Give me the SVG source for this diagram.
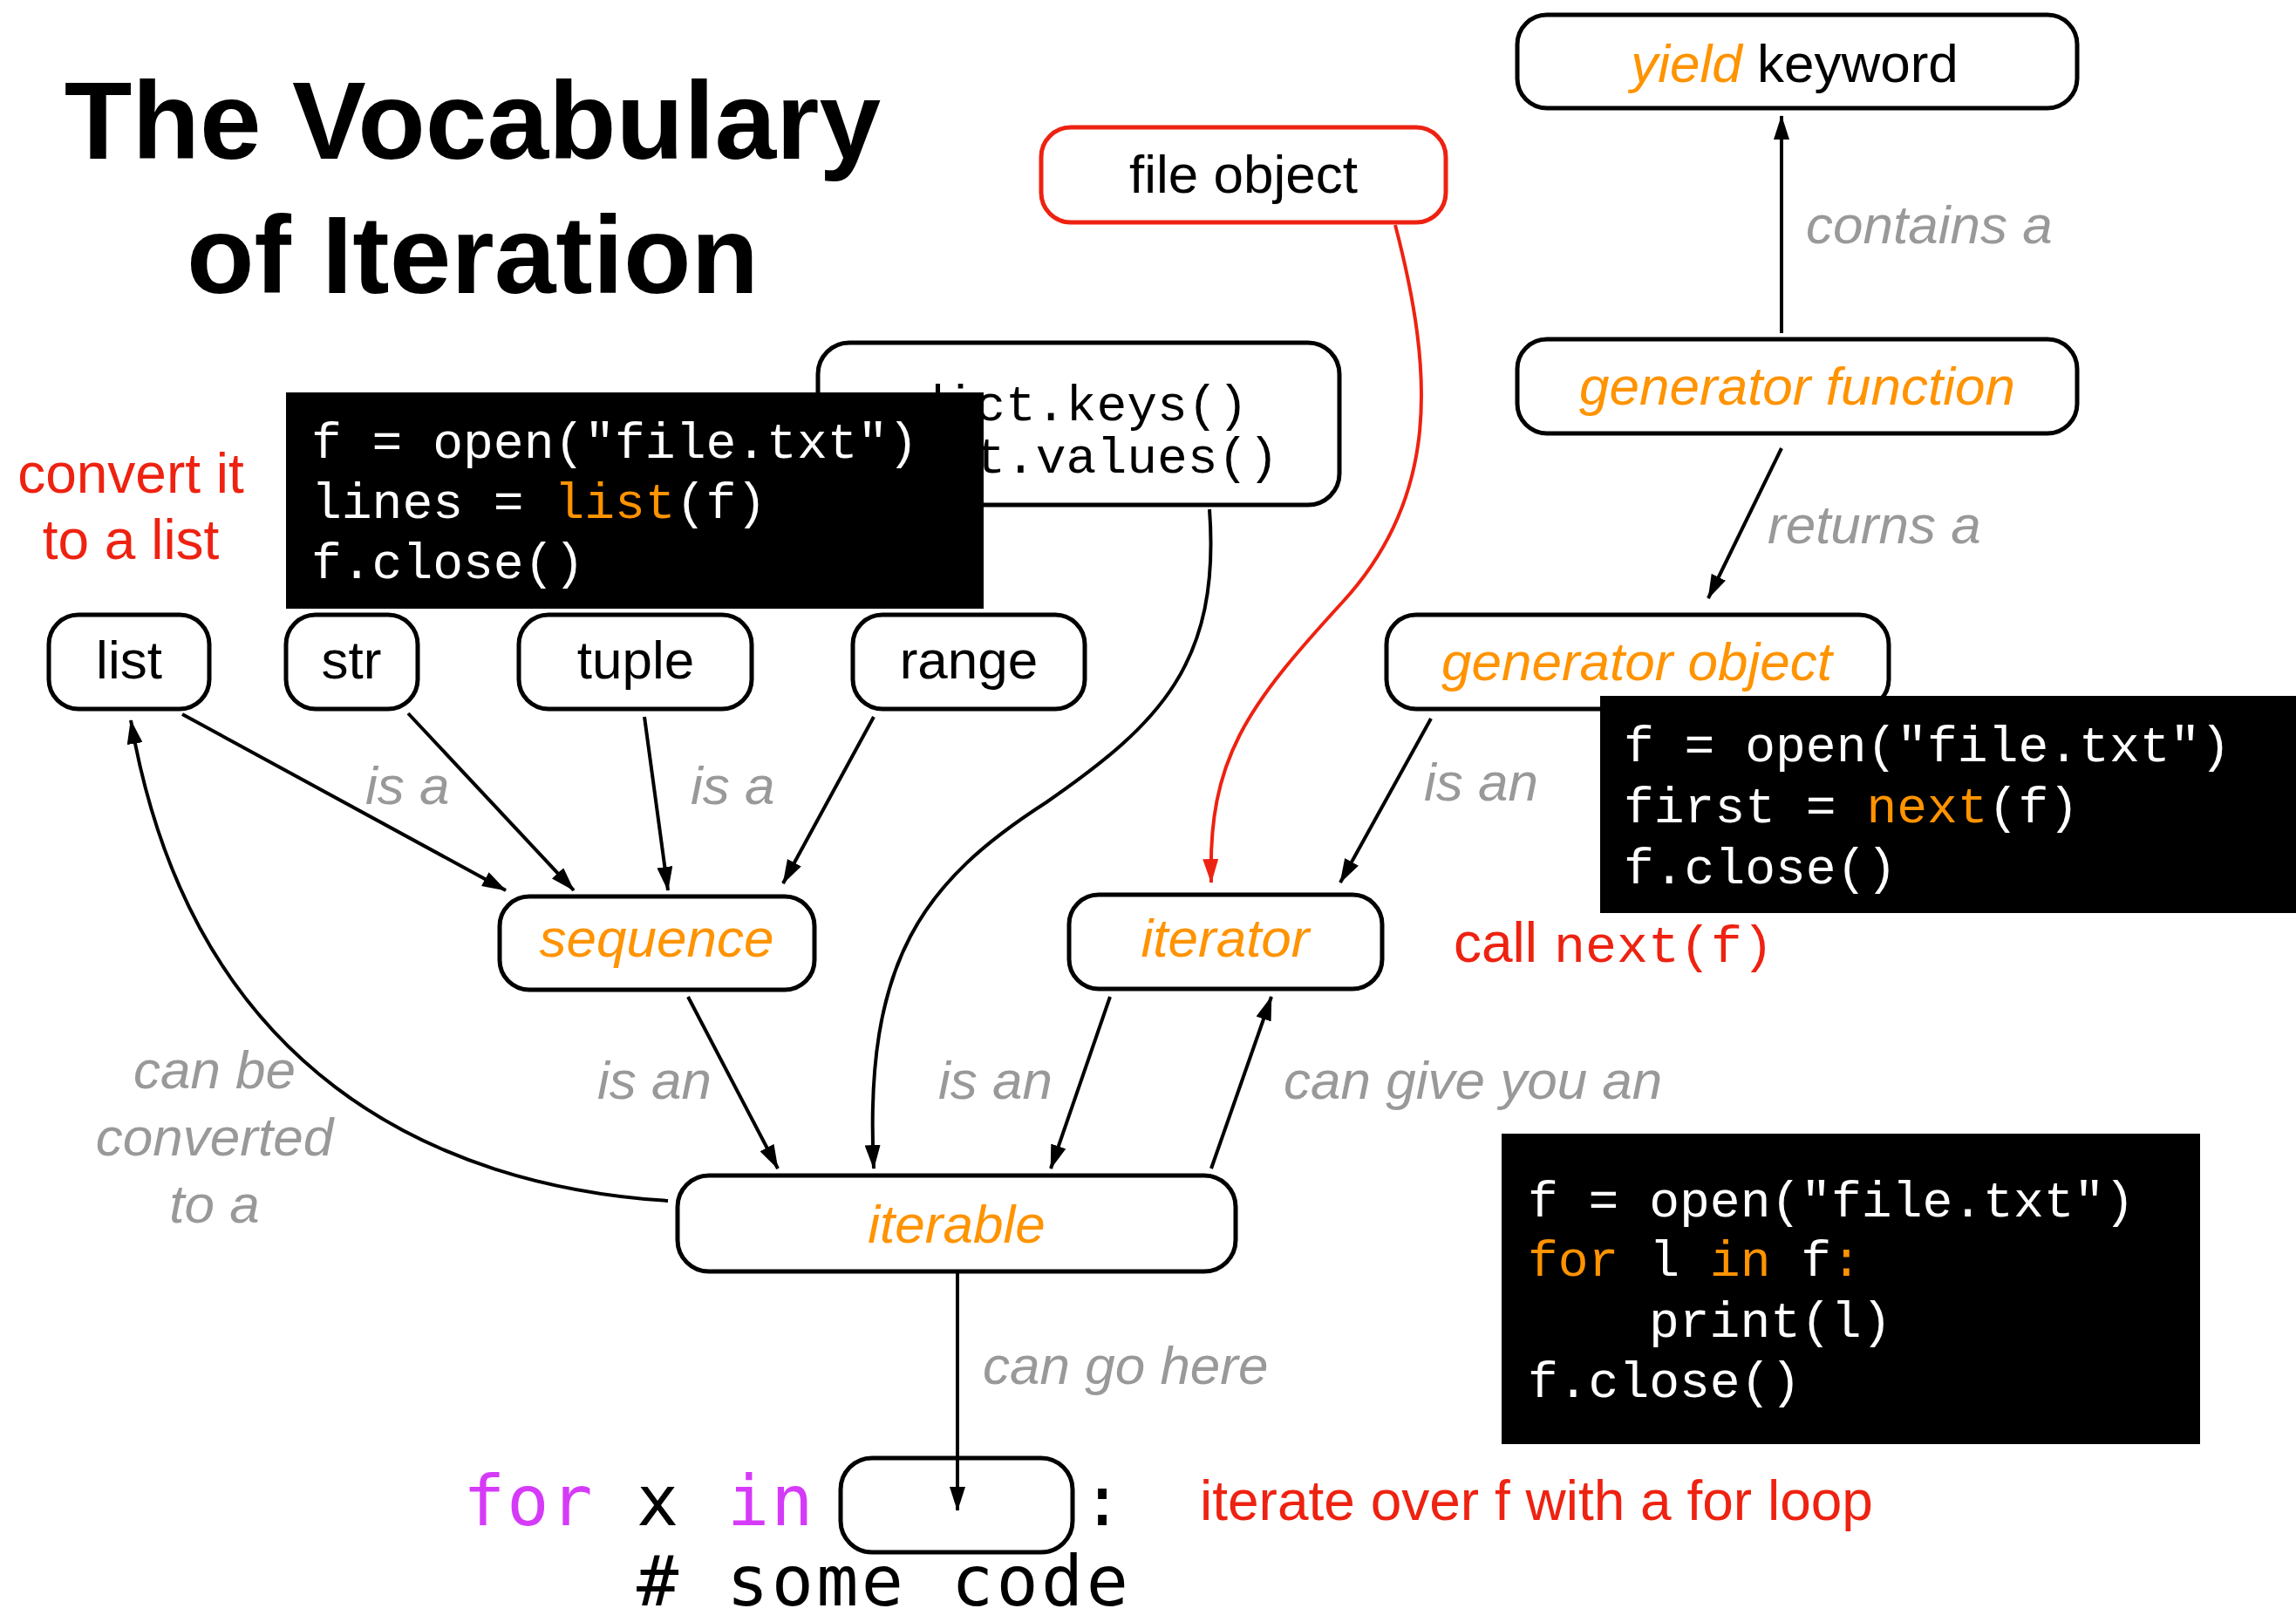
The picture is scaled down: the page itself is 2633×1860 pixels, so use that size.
<svg xmlns="http://www.w3.org/2000/svg" width="2633" height="1860" viewBox="0 0 2633 1860">
<style>
.node{fill:#fff;stroke:#000;stroke-width:5}
.red{stroke:#ee2211}
.code{fill:#000}
.t{font-family:"Liberation Sans",Arial,sans-serif;font-size:62px;fill:#000}
.c{text-anchor:middle}
.o{fill:#ff9300;font-style:italic}
.g{font-family:"Liberation Sans",Arial,sans-serif;font-size:62px;font-style:italic;fill:#999}
.r{font-family:"Liberation Sans",Arial,sans-serif;font-size:64px;fill:#ee2211}
.m{font-family:"Liberation Mono","Courier New",monospace;font-size:58px;fill:#fff}
.k{fill:#ff9300}
.mm{font-family:"DejaVu Sans Mono",monospace;font-size:80px;fill:#000}
.p{fill:#d63af9}
.e{fill:none;stroke:#000;stroke-width:4}
.er{fill:none;stroke:#ee2211;stroke-width:4}
</style>
<defs>
<marker id="ah" viewBox="0 0 28 18" refX="27" refY="9" markerWidth="28" markerHeight="18" orient="auto" markerUnits="userSpaceOnUse"><path d="M0,0 L28,9 L0,18 z" fill="#000"/></marker>
<marker id="ahr" viewBox="0 0 28 18" refX="27" refY="9" markerWidth="28" markerHeight="18" orient="auto" markerUnits="userSpaceOnUse"><path d="M0,0 L28,9 L0,18 z" fill="#ee2211"/></marker>
</defs>
<rect width="2633" height="1860" fill="#fff"/>

<g id="title" font-family="Liberation Sans,Arial,sans-serif" font-weight="bold" font-size="127" text-anchor="middle">
<text x="542" y="182">The Vocabulary</text>
<text x="542" y="336">of Iteration</text>
</g>

<g id="node-yield"><rect class="node" x="1740" y="17" width="642" height="107" rx="34"/>
<text class="t c" x="2058" y="94"><tspan class="o">yield</tspan> keyword</text></g>

<g id="node-genfunc"><rect class="node" x="1740" y="389" width="642" height="108" rx="34"/>
<text class="t c o" x="2061" y="464">generator function</text></g>

<g id="node-file"><rect class="node red" x="1194" y="146" width="464" height="109" rx="34"/>
<text class="t c" x="1426" y="221">file object</text></g>

<g id="node-dict"><rect class="node" x="938" y="393" width="598" height="186" rx="36"/>
<text class="m" x="1240" y="482" text-anchor="middle" style="fill:#000">dict.keys()</text>
<text class="m" x="1240" y="542" text-anchor="middle" style="fill:#000">dict.values()</text></g>

<g id="code-list"><rect class="code" x="328" y="450" width="800" height="248"/>
<text class="m" x="357" y="525">f = open("file.txt")</text>
<text class="m" x="357" y="594">lines = <tspan class="k">list</tspan>(f)</text>
<text class="m" x="357" y="663">f.close()</text></g>

<g id="label-convert"><text class="r c" x="150" y="565">convert it</text><text class="r c" x="150" y="641">to a list</text></g>

<g id="node-list"><rect class="node" x="56" y="705" width="184" height="108" rx="34"/><text class="t c" x="148" y="778">list</text></g>
<g id="node-str"><rect class="node" x="328" y="705" width="151" height="108" rx="34"/><text class="t c" x="403" y="778">str</text></g>
<g id="node-tuple"><rect class="node" x="595" y="705" width="267" height="108" rx="34"/><text class="t c" x="729" y="778">tuple</text></g>
<g id="node-range"><rect class="node" x="978" y="705" width="266" height="108" rx="34"/><text class="t c" x="1111" y="778">range</text></g>

<g id="node-genobj"><rect class="node" x="1590" y="705" width="576" height="108" rx="34"/>
<text class="t c o" x="1877" y="780">generator object</text></g>

<g id="code-next"><rect class="code" x="1835" y="798" width="798" height="249"/>
<text class="m" x="1862" y="873">f = open("file.txt")</text>
<text class="m" x="1862" y="943">first = <tspan class="k">next</tspan>(f)</text>
<text class="m" x="1862" y="1013">f.close()</text></g>

<g id="node-sequence"><rect class="node" x="573" y="1028" width="361" height="107" rx="34"/><text class="t c o" x="753" y="1097">sequence</text></g>
<g id="node-iterator"><rect class="node" x="1226" y="1026" width="359" height="108" rx="34"/><text class="t c o" x="1405" y="1097">iterator</text></g>

<g id="label-callnext"><text class="r" x="1667" y="1103">call <tspan x="1782" font-family="Liberation Mono,Courier New,monospace" font-size="60">next(f)</tspan></text></g>

<g id="node-iterable"><rect class="node" x="777" y="1348" width="640" height="110" rx="36"/><text class="t c o" x="1097" y="1425">iterable</text></g>

<g id="code-for"><rect class="code" x="1722" y="1300" width="801" height="356"/>
<text class="m" x="1752" y="1395">f = open("file.txt")</text>
<text class="m" x="1752" y="1463"><tspan class="k">for</tspan> l <tspan class="k">in</tspan> f<tspan class="k">:</tspan></text>
<text class="m" x="1891" y="1533">print(l)</text>
<text class="m" x="1752" y="1602">f.close()</text></g>

<g id="node-forloop"><rect class="node" x="964" y="1672" width="266" height="108" rx="36"/></g>
<g id="forcode">
<text class="mm" x="531" y="1749" letter-spacing="2"><tspan class="p">for</tspan></text>
<text class="mm" x="730" y="1749">x</text>
<text class="mm" x="834" y="1749" letter-spacing="2"><tspan class="p">in</tspan></text>
<text class="mm" x="1240" y="1749">:</text>
<text class="mm" x="730" y="1841" letter-spacing="3.4"># some code</text>
</g>
<g id="label-iterate"><text class="r" x="1376" y="1743">iterate over f with a for loop</text></g>

<g id="connectors">
<path class="e" d="M2043,382 L2043,133" marker-end="url(#ah)"/>
<path class="e" d="M2043,514 L1959,686" marker-end="url(#ah)"/>
<path class="er" d="M1600,258 C1645,430 1650,570 1540,690 C1430,810 1385,870 1389,1012" marker-end="url(#ahr)"/>
<path class="e" d="M1387,584 C1400,760 1330,830 1200,920 C1060,1010 990,1100 1002,1340" marker-end="url(#ah)"/>
<path class="e" d="M209,819 L580,1021" marker-end="url(#ah)"/>
<path class="e" d="M468,818 L658,1021" marker-end="url(#ah)"/>
<path class="e" d="M739,822 L766,1021" marker-end="url(#ah)"/>
<path class="e" d="M1002,822 L898,1013" marker-end="url(#ah)"/>
<path class="e" d="M1641,824 L1537,1012" marker-end="url(#ah)"/>
<path class="e" d="M766,1377 C500,1360 220,1230 150,826" marker-end="url(#ah)"/>
<path class="e" d="M789,1143 L892,1340" marker-end="url(#ah)"/>
<path class="e" d="M1273,1143 L1205,1340" marker-end="url(#ah)"/>
<path class="e" d="M1389,1340 L1458,1143" marker-end="url(#ah)"/>
<path class="e" d="M1098,1458 L1098,1732" marker-end="url(#ah)"/>
</g>

<g id="edge-labels">
<text class="g" x="2071" y="279">contains a</text>
<text class="g" x="2027" y="623">returns a</text>
<text class="g" x="419" y="922">is a</text>
<text class="g" x="792" y="922">is a</text>
<text class="g" x="1633" y="918">is an</text>
<text class="g" x="685" y="1260">is an</text>
<text class="g" x="1076" y="1260">is an</text>
<text class="g" x="1472" y="1260">can give you an</text>
<text class="g" x="1127" y="1587">can go here</text>
<text class="g c" x="246" y="1248">can be</text>
<text class="g c" x="246" y="1325">converted</text>
<text class="g c" x="246" y="1402">to a</text>
</g>
</svg>
